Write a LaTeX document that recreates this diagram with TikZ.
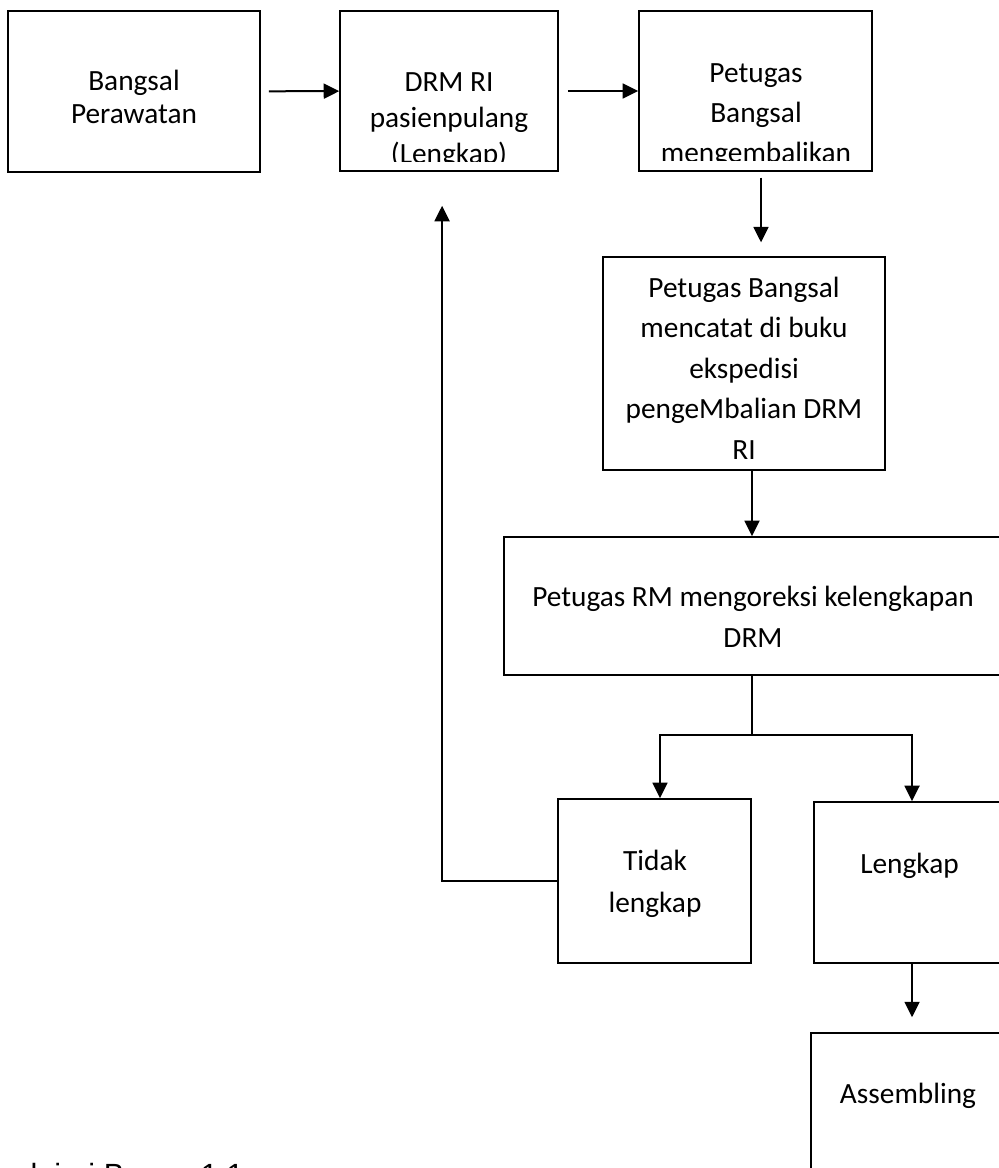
\documentclass[tikz,border=0pt]{standalone}
\usepackage{fontspec}
\setmainfont{Carlito}
\newfontfamily\capfont{Liberation Sans}
\usepackage{tikz}
\usetikzlibrary{arrows.meta,positioning}
\newcommand{\px}{0.375pt}

\begin{document}
\begin{tikzpicture}[x=\px,y=-\px,
  box/.style 2 args={draw,black,line width=0.6pt,rectangle,inner sep=0pt,minimum width=#1*\px,minimum height=#2*\px},
  lbl/.style={align=center,inner sep=0pt,font=\fontsize{11}{15.2}\selectfont},
  arr/.style={line width=0.75pt,-{Triangle[length=5.8pt,width=5.6pt]}},
  line/.style={line width=0.6pt}]
\useasboundingbox (0,0) rectangle (998,1168);
\node[box={252}{161}] (bangsal) at (134,91.5) {};
\node[box={218}{160}] (drm) at (449,91) {};
\node[box={233}{160}] (kembali) at (755.5,91) {};
\node[box={282}{213}] (catat) at (744,363.5) {};
\node[box={496}{138}] (koreksi) at (752,606) {};
\node[box={193}{164}] (tidak) at (654.5,881) {};
\node[box={196}{161}] (lengkap) at (912,882.5) {};
\node[box={202}{166}] (assembling) at (912,1116) {};
\node[lbl,font=\fontsize{11}{12.4}\selectfont] (bangsaltxt) at (134,97) {Bangsal\\Perawatan};
\begin{scope}
\clip (drm.north west) rectangle ([yshift=3.75pt]drm.south east);
\node[lbl,font=\fontsize{11}{13.5}\selectfont] (drmtxt) at (449,121) {DRM RI\\pasienpulang\\(Lengkap)};
\end{scope}
\begin{scope}
\clip (kembali.north west) rectangle ([yshift=4.1pt]kembali.south east);
\node[lbl,font=\fontsize{11}{15}\selectfont] (kembalitxt) at (756,116) {Petugas\\Bangsal\\mengembalikan};
\end{scope}
\node[lbl] (catattxt) at (744,368) {Petugas Bangsal\\mencatat di buku\\ekspedisi\\pengeMbalian DRM\\RI};
\node[lbl,font=\fontsize{11}{15.4}\selectfont] (koreksitxt) at (753,617) {Petugas RM mengoreksi kelengkapan\\DRM};
\node[lbl,font=\fontsize{11}{15.6}\selectfont] (tidaktxt) at (655,884) {Tidak\\lengkap};
\node[lbl] (lengkaptxt) at (909.5,866) {Lengkap};
\node[lbl] (assemblingtxt) at (908,1096) {Assembling};
\node[anchor=base west,inner sep=0pt,font=\capfont\fontsize{11.5}{14}\selectfont] (ket) at (30,1185) {lajari Bagan 1.1};
\draw[arr,shorten <=3pt] (bangsal) -- (drm);
\draw[arr,shorten <=3.4pt] (drm) -- (kembali);
\draw[arr,shorten <=2.2pt,shorten >=5.2pt] ([xshift=2.06pt]kembali.south) -- ([xshift=2.06pt]kembali.south |- catat.north);
\draw[arr] (koreksi.north |- catat.south) -- (koreksi.north);
\coordinate (cabang) at (752,735);
\draw[line] (koreksi.south) -- (cabang);
\draw[arr] (cabang) -| ([xshift=2.06pt]tidak.north);
\draw[arr] (cabang) -| (lengkap.north);
\draw[arr,shorten >=5.6pt] (lengkap) -- (assembling);
\draw[arr,shorten >=12.75pt] (tidak.west) -| ([xshift=-2.6pt]drm.south);
\end{tikzpicture}
\end{document}
